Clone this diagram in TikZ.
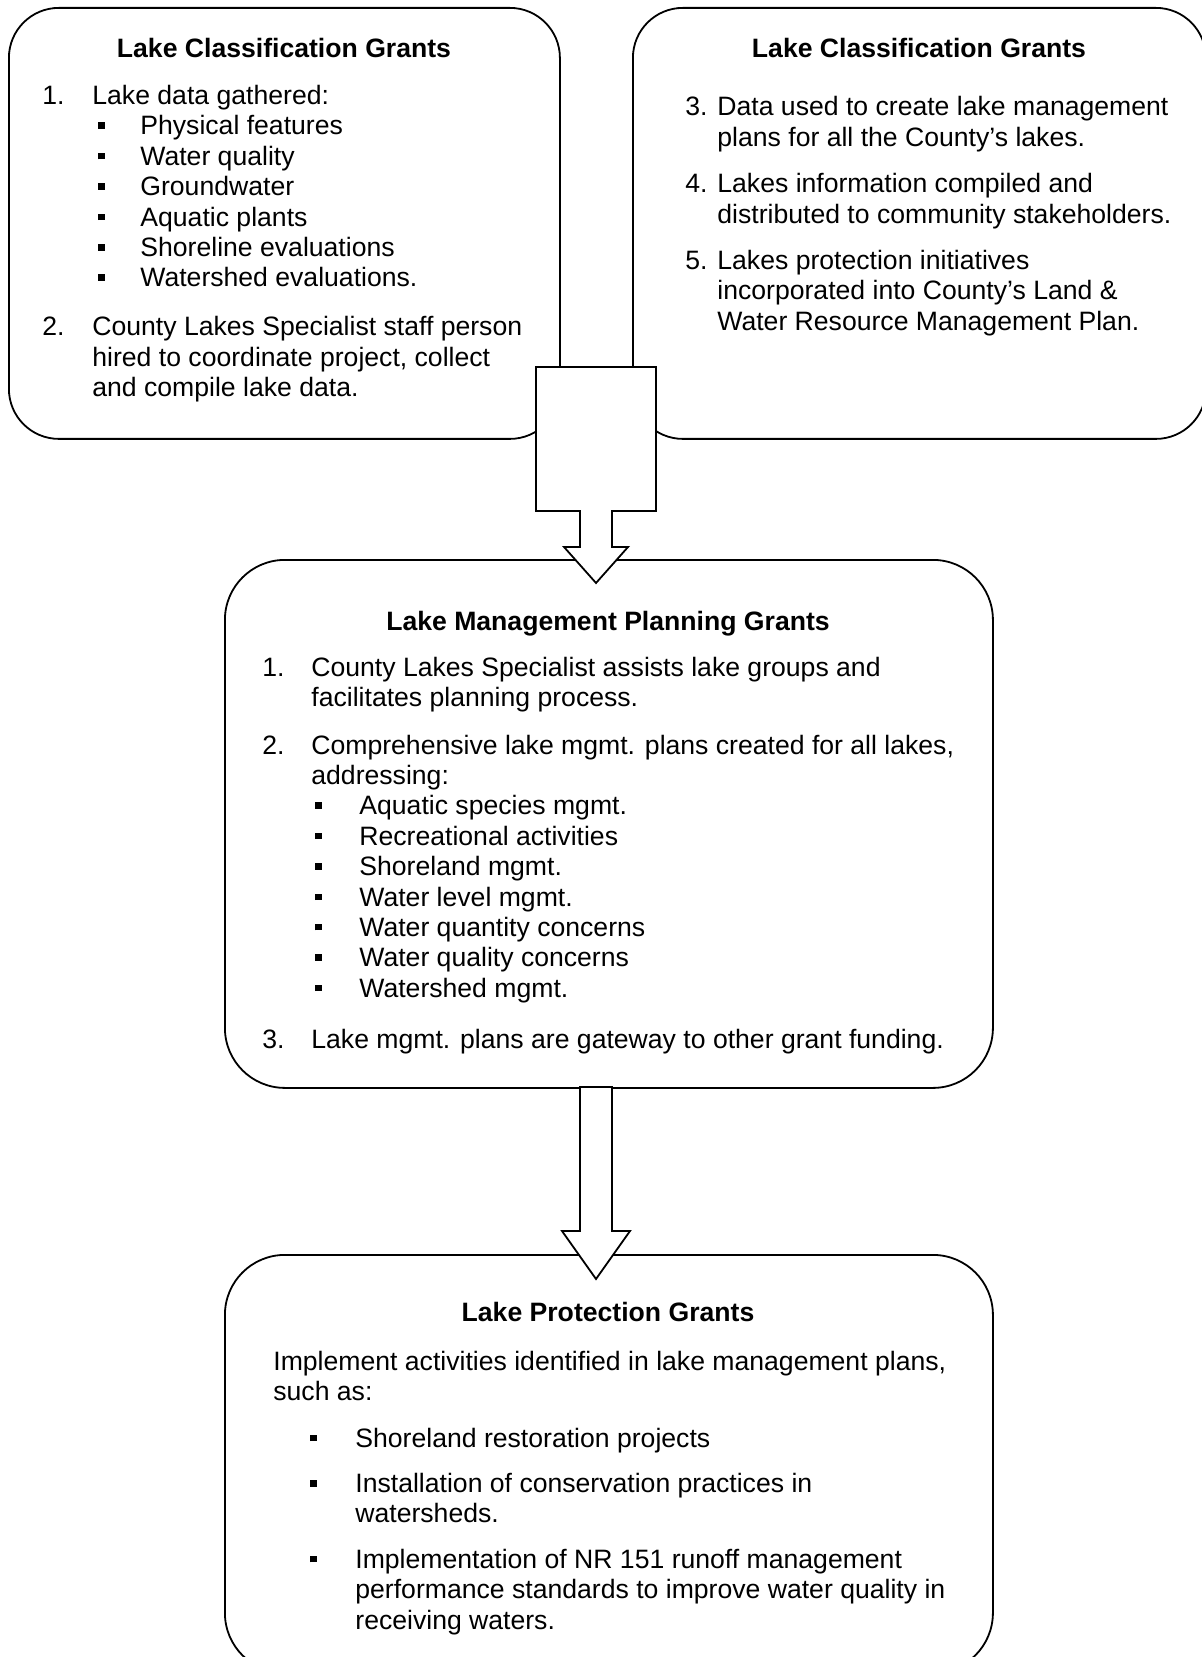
\documentclass[tikz,border=0pt]{standalone}
\usepackage{fontspec}
\setmainfont{Liberation Sans}
\newcommand\sqbul{\rule[3pt]{3.25pt}{3.25pt}}
\begin{document}
\begin{tikzpicture}[x=0.5pt,y=-0.5pt,
  rbox/.style={draw=black, line width=0.9pt, fill=white, inner sep=0pt, anchor=north west, rectangle},
  barrow/.style={draw=black, line width=0.9pt, fill=white, line join=miter},
  txt/.style={anchor=base west, inner sep=0pt, font=\fontsize{13.3pt}{15.3pt}\selectfont},
  ttl/.style={anchor=base, inner sep=0pt, font=\fontsize{13.3pt}{15.3pt}\selectfont\bfseries}]
\useasboundingbox (0,0) rectangle (1202,1657);
% boxes
\node[rbox, rounded corners=25pt, minimum width=275.5pt, minimum height=215.5pt] (box1) at (8,7) {};
\node[rbox, rounded corners=25pt, minimum width=286.5pt, minimum height=215.5pt] (box2) at (632,7) {};
\node[rbox, rounded corners=30pt, minimum width=384pt, minimum height=264pt] (box3) at (224,559) {};
\node[rbox, rounded corners=30pt, minimum width=384pt, minimum height=209pt] (box4) at (224,1254) {};
% arrows
\draw[barrow] (536,367) -- (656,367) -- (656,511) -- (612,511) -- (612,547) -- (628,547) -- (596,583) -- (564,547) -- (580,547) -- (580,511) -- (536,511) -- cycle;
\draw[barrow] (580,1087) -- (612,1087) -- (612,1231) -- (630,1231) -- (596,1279) -- (562,1231) -- (580,1231) -- cycle;
% box 1 text
\node[ttl] (t1) at (284,58) {Lake Classification Grants};
\node[txt] (n11) at (42,105) {1.};
\node[txt] (l11) at (92,105) {Lake data gathered:};
\node[txt] (b11) at (98,135) {\sqbul};
\node[txt] (s11) at (140,135) {Physical features};
\node[txt] (b12) at (98,165.4) {\sqbul};
\node[txt] (s12) at (140,165.4) {Water quality};
\node[txt] (b13) at (98,195.8) {\sqbul};
\node[txt] (s13) at (140,195.8) {Groundwater};
\node[txt] (b14) at (98,226.2) {\sqbul};
\node[txt] (s14) at (140,226.2) {Aquatic plants};
\node[txt] (b15) at (98,256.6) {\sqbul};
\node[txt] (s15) at (140,256.6) {Shoreline evaluations};
\node[txt] (b16) at (98,287) {\sqbul};
\node[txt] (s16) at (140,287) {Watershed evaluations.};
\node[txt] (n12) at (42,336) {2.};
\node[txt] (l12a) at (92,336) {County Lakes Specialist staff person};
\node[txt] (l12b) at (92,366.4) {hired to coordinate project, collect};
\node[txt] (l12c) at (92,396.8) {and compile lake data.};
% box 2 text
\node[ttl] (t2) at (919,58) {Lake Classification Grants};
\node[txt] (n23) at (685,116) {3.};
\node[txt] (l23a) at (717,116) {Data used to create lake management};
\node[txt] (l23b) at (717,146.4) {plans for all the County’s lakes.};
\node[txt] (n24) at (685,193) {4.};
\node[txt] (l24a) at (717,193) {Lakes information compiled and};
\node[txt] (l24b) at (717,223.4) {distributed to community stakeholders.};
\node[txt] (n25) at (685,269.6) {5.};
\node[txt] (l25a) at (717,269.6) {Lakes protection initiatives};
\node[txt] (l25b) at (717,300) {incorporated into County’s Land \&};
\node[txt] (l25c) at (717,330.4) {Water Resource Management Plan.};
% box 3 text
\node[ttl] (t3) at (608,630) {Lake Management Planning Grants};
\node[txt] (n31) at (262,676) {1.};
\node[txt] (l31a) at (311,676) {County Lakes Specialist assists lake groups and};
\node[txt] (l31b) at (311,706.4) {facilitates planning process.};
\node[txt] (n32) at (262,754) {2.};
\node[txt] (l32a) at (311,754) {Comprehensive lake mgmt. plans created for all lakes,};
\node[txt] (l32b) at (311,784.4) {addressing:};
\node[txt] (b31) at (315,814.8) {\sqbul};
\node[txt] (s31) at (359,814.8) {Aquatic species mgmt.};
\node[txt] (b32) at (315,845.2) {\sqbul};
\node[txt] (s32) at (359,845.2) {Recreational activities};
\node[txt] (b33) at (315,875.6) {\sqbul};
\node[txt] (s33) at (359,875.6) {Shoreland mgmt.};
\node[txt] (b34) at (315,906) {\sqbul};
\node[txt] (s34) at (359,906) {Water level mgmt.};
\node[txt] (b35) at (315,936.4) {\sqbul};
\node[txt] (s35) at (359,936.4) {Water quantity concerns};
\node[txt] (b36) at (315,966.8) {\sqbul};
\node[txt] (s36) at (359,966.8) {Water quality concerns};
\node[txt] (b37) at (315,997.2) {\sqbul};
\node[txt] (s37) at (359,997.2) {Watershed mgmt.};
\node[txt] (n33) at (262,1048) {3.};
\node[txt] (l33) at (311,1048) {Lake mgmt. plans are gateway to other grant funding.};
% box 4 text
\node[ttl] (t4) at (608,1321) {Lake Protection Grants};
\node[txt] (l41a) at (273,1370) {Implement activities identified in lake management plans,};
\node[txt] (l41b) at (273,1400.4) {such as:};
\node[txt] (b41) at (310,1447) {\sqbul};
\node[txt] (s41) at (355,1447) {Shoreland restoration projects};
\node[txt] (b42) at (310,1492.5) {\sqbul};
\node[txt] (s42a) at (355,1492.5) {Installation of conservation practices in};
\node[txt] (s42b) at (355,1522.9) {watersheds.};
\node[txt] (b43) at (310,1568.4) {\sqbul};
\node[txt] (s43a) at (355,1568.4) {Implementation of NR 151 runoff management};
\node[txt] (s43b) at (355,1598.8) {performance standards to improve water quality in};
\node[txt] (s43c) at (355,1629.2) {receiving waters.};
\end{tikzpicture}
\end{document}
